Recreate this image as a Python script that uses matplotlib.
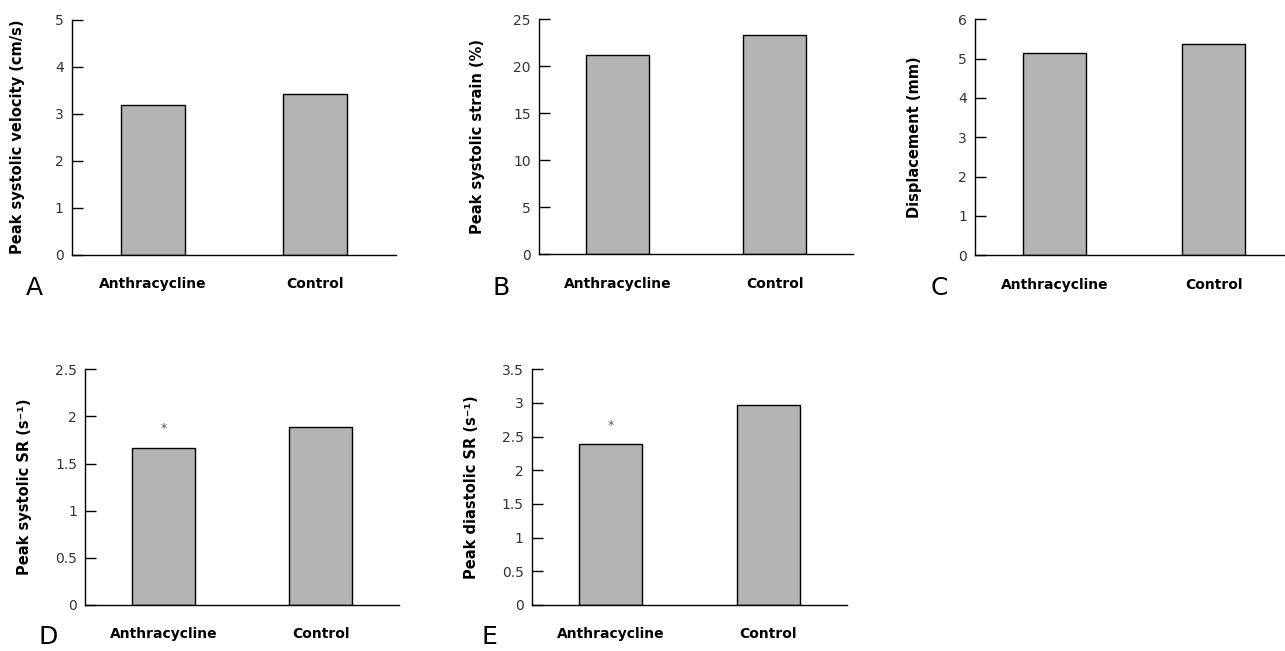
import numpy as np
import matplotlib
matplotlib.use("Agg")
import matplotlib.pyplot as plt

plt.rcParams['font.family'] = ['DejaVu Sans']

groups = ["Anthracycline", "Control"]

velocity = [3.19, 3.42]
strain = [21.2, 23.3]
displacement = [5.15, 5.38]
systolic_sr = [1.67, 1.89]
diastolic_sr = [2.39, 2.97]

panels = [
    # letter, values, ylabel, ymax, ystep, starred, box px (left, right, top, bottom), label offset px
    ("A", velocity, "Peak systolic velocity (cm/s)", 5, 1, False, (72, 396, 19.5, 255), 47),
    ("B", strain, "Peak systolic strain (%)", 25, 5, False, (539.3, 853, 19.3, 254.3), 54),
    ("C", displacement, "Displacement (mm)", 6, 1, False, (975.3, 1293, 19.3, 255.3), 53),
    ("D", systolic_sr, "Peak systolic SR (s\u207b\u00b9)", 2.5, 0.5, True, (85.3, 399.3, 369.3, 605), 53),
    ("E", diastolic_sr, "Peak diastolic SR (s\u207b\u00b9)", 3.5, 0.5, True, (532, 847.3, 369.3, 605), 53),
]
letter_pos = {"A": (34, 288), "B": (501, 288), "C": (939, 288), "D": (48, 637), "E": (489, 637)}

W, H = 1285, 651
fig = plt.figure(figsize=(W / 100, H / 100), dpi=100)

for letter, vals, ylab, ymax, step, starred, box, off in panels:
    l, r, t, b = box
    ax = fig.add_axes([l / W, 1 - b / H, (r - l) / W, (b - t) / H])
    x = np.arange(len(groups))
    ax.bar(x, vals, width=0.4, color="#b3b3b3", edgecolor="black", linewidth=1)
    ax.set_xlim(-0.5, 1.5)
    ax.set_ylim(0, ymax)
    ticks = np.arange(0, ymax + step / 2, step)
    ax.set_yticks(ticks)
    ax.set_yticklabels(["%g" % v for v in ticks])
    ax.set_xticks(x)
    ax.set_xticklabels(groups, fontweight="bold", fontsize=10)
    ax.tick_params(axis="x", length=0, pad=16)
    ax.tick_params(axis="y", direction="in", length=8, width=1, labelsize=10,
                   labelcolor="#333333", pad=6)
    for s in ["top", "right"]:
        ax.spines[s].set_visible(False)
    ax.spines["left"].set_linewidth(1)
    ax.spines["bottom"].set_linewidth(1)
    ax.set_ylabel(ylab, fontweight="bold", fontsize=10.5)
    ax.yaxis.set_label_coords(-off / (r - l), 0.5)
    if starred:
        ax.annotate("*", xy=(0, vals[0]), xytext=(0, 9), textcoords="offset points",
                    ha="center", va="bottom", fontsize=9, color="#555555")

for letter, (px, py) in letter_pos.items():
    fig.text(px / W, 1 - py / H, letter, fontsize=18, ha="center", va="center")

fig.savefig("out.png", dpi=100)
